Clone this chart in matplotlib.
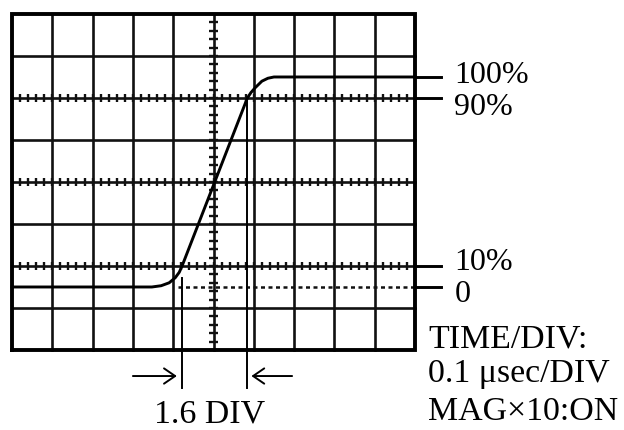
import numpy as np
import matplotlib.pyplot as plt

# oscilloscope screen: 10 x 8 divisions, coordinates in DIV
n_cols = 10
n_rows = 8

# rising edge trace (x, y in DIV)
trace_x = [-5.0, -1.53, -1.3, -1.1, -0.95, -0.85, -0.78, 0.84, 0.93, 1.03, 1.2, 1.35, 1.5, 5.0]
trace_y = [-2.5, -2.5, -2.47, -2.4, -2.28, -2.15, -2.0, 2.0, 2.13, 2.24, 2.4, 2.47, 2.5, 2.5]

# level lines and their labels
level_y = [2.5, 2.0, -2.0, -2.5]
level_labels = ["100%", "90%", "10%", "0"]
label_base = [2.36, 1.595, -2.10, -2.857]

# 10% / 90% crossing markers
marker_x = [-0.79, 0.82]
rise_label = "1.6 DIV"

info_lines = ["TIME/DIV:", "0.1 \u03bcsec/DIV", "MAG\u00d710:ON"]
info_base = [-3.93, -4.77, -5.67]

fig = plt.figure(figsize=(6.24, 4.3), dpi=100)
ax = fig.add_axes([0, 0, 1, 1])
ax.set_xlim(-5.298, 10.186)
ax.set_ylim(-5.905, 4.333)
ax.axis('off')

fnt = dict(family='Liberation Serif', color='black')

# grid
for gx in range(-n_cols // 2 + 1, n_cols // 2):
    ax.plot([gx, gx], [-4, 4], color='#111111', lw=1.9, zorder=1)
for gy in range(-n_rows // 2 + 1, n_rows // 2):
    ax.plot([-5, 5], [gy, gy], color='#111111', lw=1.9, zorder=1)
ax.plot([-5, 5, 5, -5, -5], [-4, -4, 4, 4, -4], color='black', lw=2.8, zorder=3,
        solid_joinstyle='miter')

# small graduation ticks
sub = np.arange(-5, 5.01, 0.2)
for gy in [2, 0, -2]:
    ax.vlines(sub, gy - 0.09, gy + 0.09, color='#111111', lw=1.7, zorder=1)
suby = np.arange(-4, 4.01, 0.2)
ax.hlines(suby, -0.1, 0.1, color='#111111', lw=1.7, zorder=1)

# 0 level dotted line
ax.plot([-0.88, 5], [-2.5, -2.5], color='#111111', lw=1.8, ls=(0, (1.6, 1.4)), zorder=2)

# trace
ax.plot(trace_x, trace_y, color='black', lw=2.1, zorder=4, solid_joinstyle='round')

# leader lines and level labels
for ly, lab, lb in zip(level_y, level_labels, label_base):
    ax.plot([5, 5.645], [ly, ly], color='black', lw=2.1, zorder=4)
    ax.text(5.98, lb, lab, fontsize=23, ha='left', va='baseline', **fnt)

# crossing markers
ax.plot([marker_x[0], marker_x[0]], [-2.29, -4.905], color='black', lw=1.4, zorder=4)
ax.plot([marker_x[1], marker_x[1]], [2.0, -4.905], color='black', lw=1.4, zorder=4)

arr = dict(arrowstyle='->,head_length=0.8,head_width=0.55', color='black', lw=1.4,
           shrinkA=0, shrinkB=0)
ax.annotate('', xy=(marker_x[0] - 0.12, -4.62), xytext=(-2.0, -4.62), arrowprops=arr)
ax.annotate('', xy=(marker_x[1] + 0.12, -4.62), xytext=(1.95, -4.62), arrowprops=arr)

ax.text(-0.09, -5.72, rise_label, fontsize=24.4, ha='center', va='baseline', **fnt)

for line, yb in zip(info_lines, info_base):
    ax.text(5.32, yb, line, fontsize=24.4, ha='left', va='baseline', **fnt)

fig.savefig('out.png', dpi=100)
